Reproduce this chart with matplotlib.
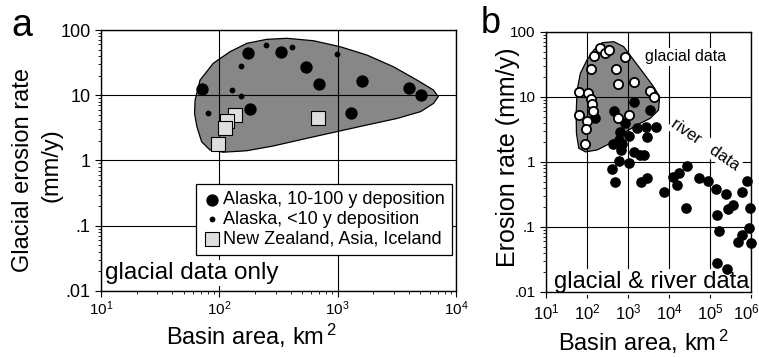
import matplotlib.pyplot as plt
from matplotlib.patches import Polygon
from matplotlib.ticker import NullFormatter
from matplotlib.transforms import ScaledTranslation

plt.rcParams['font.family'] = ['Liberation Sans', 'DejaVu Sans']
plt.rcParams['mathtext.fontset'] = 'custom'
plt.rcParams['mathtext.rm'] = 'Liberation Sans'
plt.rcParams['mathtext.it'] = 'Liberation Sans:italic'
plt.rcParams['mathtext.bf'] = 'Liberation Sans:bold'

# ---- panel a: glacial data only ----
ak_big_area = [72, 176, 330, 541, 700, 1614, 3990, 5070, 182, 1290]
ak_big_rate = [12.3, 44.9, 45.5, 27.1, 15.1, 16.5, 12.9, 10.1, 6.1, 5.3]

ak_small_area = [80, 127, 153, 152, 249, 409, 993]
ak_small_rate = [5.3, 11.9, 9.8, 28.2, 59.3, 55.3, 43.6]

nz_area = [136, 115, 112, 97, 682]
nz_rate = [4.9, 3.96, 3.12, 1.79, 4.53]

# outline of the shaded glacial field, panel a
blob_a_area = [62.4, 68.7, 88.9, 123, 171, 251, 372, 624, 1047, 1762, 2951, 4677,
               6457, 7079, 6457, 5012, 3162, 1762, 977, 550, 286, 170, 108, 83.2,
               70.8, 64.6, 61.7]
blob_a_rate = [8.45, 17.1, 30.9, 46.5, 62.5, 71.9, 74.6, 68.5, 55.5, 41.4, 27.4, 17.1,
               12.0, 9.5, 7.5, 5.6, 4.4, 3.5, 2.76, 2.19, 1.67, 1.41, 1.34, 1.45,
               1.94, 3.30, 5.28]

# ---- panel b: glacial & river data ----
glac_area = [151, 212, 270, 345, 826, 126, 499, 571, 1422, 65, 106, 128, 132, 143,
             65, 100, 95, 88, 571, 1057, 3427, 4198]
glac_rate = [42.8, 56.1, 48.1, 52.8, 40.8, 27.0, 27.2, 15.8, 17.0, 12.1, 11.6, 9.2,
             7.8, 6.1, 5.3, 4.3, 3.25, 1.87, 4.7, 5.3, 12.5, 10.1]

river_area = [1368, 3388, 447, 160, 859, 1656, 2786, 4699, 650, 1035, 2897, 604, 714,
              431, 687, 1368, 1980, 2480, 590, 1035, 408, 491, 2109, 2897, 7345,
              12450, 18000, 15560, 28180, 26180, 54300, 91400, 138000, 246600,
              594000, 813000, 146000, 280500, 370700, 946000, 169400, 893000,
              594000, 491000, 984000, 151000, 265000]
river_rate = [8.5, 6.3, 6.05, 4.67, 3.94, 3.37, 3.42, 3.49, 2.93, 2.51, 2.45, 2.18, 1.89,
              1.87, 1.51, 1.41, 1.28, 1.26, 1.03, 0.97, 0.77, 0.50, 0.50, 0.57, 0.34,
              0.58, 0.67, 0.44, 0.87, 0.198, 0.57, 0.515, 0.39, 0.32,
              0.34, 0.51, 0.153, 0.187, 0.218, 0.194, 0.087, 0.0975,
              0.075, 0.059, 0.056, 0.028, 0.0226]

blob_b_area = [233, 447, 782, 1368, 2399, 4198, 5875, 5559, 3491, 1656, 782, 371, 176,
               91.4, 62.8, 55.2, 54.3, 57.4, 69.0, 100, 146]
blob_b_rate = [68.3, 71.0, 59.4, 37.1, 23.2, 14.4, 10.1, 6.3, 4.7, 3.71, 2.77, 1.94,
               1.53, 1.43, 1.63, 2.77, 5.6, 12.8, 23.2, 37.1, 52.8]

y_ticks = [0.01, 0.1, 1, 10, 100]
y_labels = ['.01', '.1', '1', '10', '100']
xa_ticks = [1e1, 1e2, 1e3, 1e4]
xa_labels = [r'$\mathregular{10^{1}}$', r'$\mathregular{10^{2}}$',
             r'$\mathregular{10^{3}}$', r'$\mathregular{10^{4}}$']
xb_ticks = [1e1, 1e2, 1e3, 1e4, 1e5, 1e6]
xb_labels = [r'$\mathregular{10^{%d}}$' % k for k in range(1, 7)]

fig = plt.figure(figsize=(7.59, 3.58), dpi=100)
ax1 = fig.add_axes([0.1331, 0.1872, 0.4677, 0.729])
ax2 = fig.add_axes([0.7194, 0.1844, 0.2701, 0.7263])


def style_axes(ax):
    ax.set_xscale('log')
    ax.set_yscale('log')
    ax.grid(True, which='major', color='black', lw=0.8)
    ax.tick_params(which='major', direction='out', length=4, width=0.8, colors='black')
    ax.tick_params(which='minor', direction='out', length=2.5, width=0.6)
    ax.xaxis.set_minor_formatter(NullFormatter())
    ax.yaxis.set_minor_formatter(NullFormatter())
    for sp in ax.spines.values():
        sp.set_linewidth(1.0)
        sp.set_color('black')


# panel a
style_axes(ax1)
ax1.add_patch(Polygon(list(zip(blob_a_area, blob_a_rate)), closed=True,
                      facecolor='#878787', edgecolor='black', lw=0.9, zorder=1))
h1 = ax1.scatter(ak_big_area, ak_big_rate, s=62, c='black', zorder=3,
                 label='Alaska, 10-100 y deposition')
h2 = ax1.scatter(ak_small_area, ak_small_rate, s=10, c='black', zorder=3,
                 label='Alaska, <10 y deposition')
h3 = ax1.scatter(nz_area, nz_rate, s=94, marker='s', c='#dedede', edgecolors='black',
                 linewidths=0.8, zorder=3, label='New Zealand, Asia, Iceland')
ax1.set_xlim(10, 1e4)
ax1.set_ylim(0.01, 100)
ax1.set_xticks(xa_ticks)
ax1.set_xticklabels(xa_labels, fontsize=11)
ax1.tick_params(axis='x', pad=2)
ax1.set_yticks(y_ticks)
ax1.set_yticklabels(y_labels, fontsize=13)
leg = ax1.legend(handles=[h1, h2, h3], loc='upper left', bbox_to_anchor=(0.268, 0.409),
                 borderaxespad=0, fancybox=False, edgecolor='black', framealpha=1,
                 fontsize=13, handletextpad=0.2, handlelength=0.9, labelspacing=0.15,
                 borderpad=0.4, scatterpoints=1)
leg.get_frame().set_linewidth(0.9)
ax1.text(0.012, 0.045, 'glacial data only', transform=ax1.transAxes, fontsize=17.5,
         va='baseline', zorder=2.5,
         bbox=dict(facecolor='white', edgecolor='none', pad=1.5))

# panel b
style_axes(ax2)
ax2.add_patch(Polygon(list(zip(blob_b_area, blob_b_rate)), closed=True,
                      facecolor='#878787', edgecolor='black', lw=0.9, zorder=1))
ax2.scatter(river_area, river_rate, s=44, c='black', zorder=3, clip_on=False)
ax2.scatter(glac_area, glac_rate, s=44, c='white', edgecolors='black', linewidths=1.3,
            zorder=3, clip_on=False)
ax2.set_xlim(10, 1e6)
ax2.set_ylim(0.01, 100)
ax2.set_xticks(xb_ticks)
ax2.set_xticklabels(xb_labels, fontsize=12)
# last tick label sits at the figure edge, nudge it inside
last = ax2.get_xticklabels()[-1]
last.set_transform(last.get_transform() + ScaledTranslation(-5 / 100, 0, fig.dpi_scale_trans))
ax2.set_yticks(y_ticks)
ax2.set_yticklabels(y_labels, fontsize=11)
ax2.text(0.483, 0.904, 'glacial data', transform=ax2.transAxes, fontsize=11.5,
         va='center', ha='left', zorder=2.5,
         bbox=dict(facecolor='white', edgecolor='none', pad=1))
ax2.text(75900, 1.83, 'river   data', fontsize=12, rotation=-34.5, ha='center',
         va='center', rotation_mode='anchor', zorder=2.5,
         bbox=dict(facecolor='white', edgecolor='none', pad=1))
ax2.text(0.04, 0.015, 'glacial & river data', transform=ax2.transAxes, fontsize=17,
         va='baseline', zorder=2.5,
         bbox=dict(facecolor='white', edgecolor='none', pad=1.5))

# labels
fig.text(11 / 759, 1 - 36 / 358, 'a', fontsize=27, va='baseline')
fig.text(481 / 759, 1 - 33 / 358, 'b', fontsize=26, va='baseline')
fig.text(23.5 / 759, 1 - 170 / 358, 'Glacial erosion rate', fontsize=17, rotation=90,
         ha='center', va='center')
fig.text(51 / 759, 1 - 165 / 358, '(mm/y)', fontsize=17, rotation=90,
         ha='center', va='center')
fig.text(508 / 759, 1 - 157 / 358, 'Erosion rate (mm/y)', fontsize=18, rotation=90,
         ha='center', va='center')
fig.text(251 / 759, 1 - 345 / 358, r'Basin area, km$^{\,2}$', fontsize=17,
         ha='center', va='baseline')
fig.text(643 / 759, 1 - 351 / 358, r'Basin area, km$^{\,2}$', fontsize=17,
         ha='center', va='baseline')

fig.savefig('out.png', dpi=100)
